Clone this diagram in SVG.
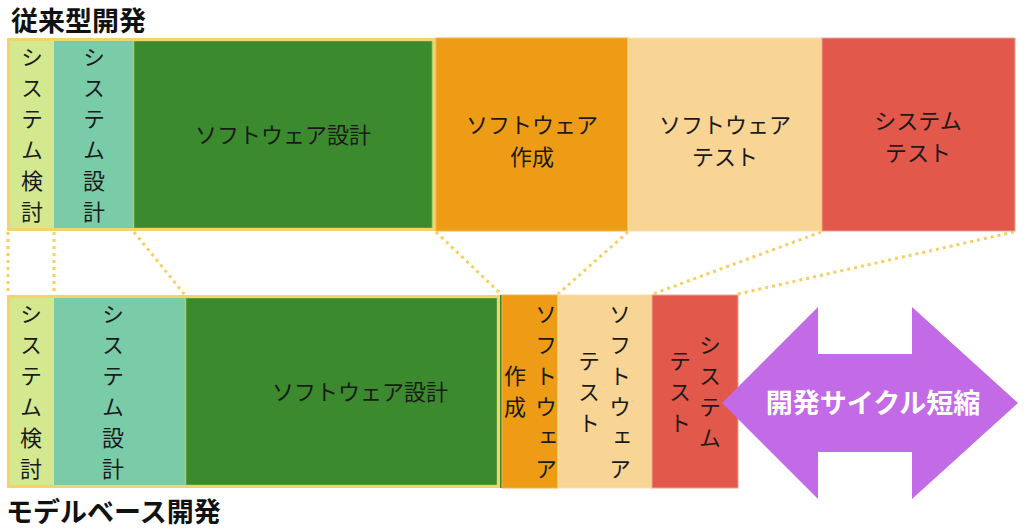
<svg xmlns="http://www.w3.org/2000/svg" width="1024" height="532" viewBox="0 0 1024 532">
<style>
text{font-family:"Noto Sans CJK JP","Noto Sans",sans-serif;fill:#1a1a1a}
.t{font-size:22px;text-anchor:middle}
.v{font-size:22px;text-anchor:middle;writing-mode:vertical-rl;letter-spacing:9px}
.title{font-size:27px;font-weight:bold;fill:#111}
.frame{fill:none;stroke:#f3d36c;stroke-width:3}
.dot{fill:none;stroke:#f5cf5f;stroke-width:3;stroke-dasharray:3 4}
.lg{fill:#d4e88f}
.tl{fill:#7acba8}
.dg{fill:#3b8a2d;stroke:#b5cc6a;stroke-width:1.5}
.or{fill:#ee9c16;stroke:#f2b14a;stroke-width:1}
.lo{fill:#f8d594;stroke:#f9dfae;stroke-width:1}
.rd{fill:#e2584a;stroke:#f0a196;stroke-width:1}
</style>
<g id="connectors">
<line class="dot" x1="8" y1="232" x2="8" y2="295"/>
<line class="dot" x1="54" y1="232" x2="54" y2="295"/>
<line class="dot" x1="134" y1="232" x2="185" y2="295"/>
<line class="dot" x1="436" y1="232" x2="501" y2="294"/>
<line class="dot" x1="628" y1="232" x2="558" y2="294"/>
<line class="dot" x1="821" y1="232" x2="653" y2="294"/>
<line class="dot" x1="1014" y1="232" x2="738" y2="294"/>
</g>
<g id="title-top"><text class="title" x="11" y="31">従来型開発</text></g>
<g id="title-bottom"><text class="title" x="6" y="522">モデルベース開発</text></g>
<g id="top-row">
<g id="top-sys-study"><rect class="lg" x="7" y="38" width="47" height="193"/><text class="v" x="32" y="139">システム検討</text></g>
<g id="top-sys-design"><rect class="tl" x="54" y="38" width="79" height="193"/><text class="v" x="94" y="139">システム設計</text></g>
<g id="top-sw-design"><rect class="dg" x="133.5" y="40.5" width="299" height="188"/><text class="t" x="283" y="143">ソフトウェア設計</text></g>
<rect class="frame" x="8.5" y="39.5" width="426" height="190"/>
<g id="top-sw-impl"><rect class="or" x="436" y="38" width="192" height="193"/><text class="t" x="532" y="133">ソフトウェア</text><text class="t" x="532" y="165">作成</text></g>
<g id="top-sw-test"><rect class="lo" x="628" y="38" width="194" height="193"/><text class="t" x="725" y="133">ソフトウェア</text><text class="t" x="725" y="165">テスト</text></g>
<g id="top-sys-test"><rect class="rd" x="822" y="38" width="193" height="193"/><text class="t" x="918" y="129">システム</text><text class="t" x="918" y="161">テスト</text></g>
</g>
<g id="bottom-row">
<g id="mb-sys-study"><rect class="lg" x="7" y="295" width="47" height="193"/><text class="v" x="31" y="396">システム検討</text></g>
<g id="mb-sys-design"><rect class="tl" x="54" y="295" width="131" height="193"/><text class="v" x="113" y="396">システム設計</text></g>
<g id="mb-sw-design"><rect class="dg" x="185.5" y="297.5" width="312" height="188"/><text class="t" x="360" y="400">ソフトウェア設計</text></g>
<rect class="frame" x="8.5" y="296.5" width="490" height="190"/>
<rect x="500" y="295" width="2" height="193" fill="#3b8a2d"/>
<g id="mb-sw-impl"><rect class="or" x="502" y="295" width="56" height="193"/><text class="v" x="546" y="396">ソフトウェア</text><text class="v" x="515" y="396">作成</text></g>
<g id="mb-sw-test"><rect class="lo" x="558" y="295" width="94" height="193"/><text class="v" x="620" y="396">ソフトウェア</text><text class="v" x="589" y="396">テスト</text></g>
<g id="mb-sys-test"><rect class="rd" x="652" y="295" width="86" height="193"/><text class="v" x="710" y="396">システム</text><text class="v" x="680" y="396">テスト</text></g>
</g>
<g id="cycle-arrow">
<polygon points="722,403 818,307 818,354 912,354 912,307 1018,403 912,499 912,452 818,452 818,499" fill="#c36be6"/>
<text x="873" y="413" style="font-size:27px;font-weight:bold;fill:#ffffff;text-anchor:middle">開発サイクル短縮</text>
</g>
</svg>
